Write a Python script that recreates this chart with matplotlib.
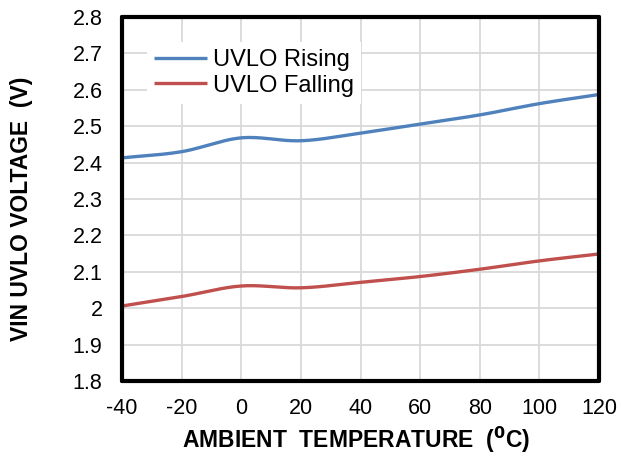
import numpy as np
import matplotlib
matplotlib.use("Agg")
import matplotlib.pyplot as plt

plt.rcParams['font.family'] = ['Liberation Sans', 'DejaVu Sans']

temps = [-40, -20, 0, 20, 40, 60, 80, 100, 120]
uvlo_rising = [2.413, 2.430, 2.468, 2.460, 2.481, 2.506, 2.531, 2.562, 2.587]
uvlo_falling = [2.006, 2.032, 2.061, 2.056, 2.071, 2.087, 2.107, 2.130, 2.149]
xticks = [-40, -20, 0, 20, 40, 60, 80, 100, 120]
xticklabels = ['-40', '-20', '0', '20', '40', '60', '80', '100', '120']
yticks = [1.8, 1.9, 2.0, 2.1, 2.2, 2.3, 2.4, 2.5, 2.6, 2.7, 2.8]
yticklabels = ['1.8', '1.9', '2', '2.1', '2.2', '2.3', '2.4', '2.5', '2.6', '2.7', '2.8']


def smooth(x, y, n=30):
    # Catmull-Rom style smoothing (like spreadsheet smoothed lines)
    x = np.asarray(x, float); y = np.asarray(y, float)
    px = np.concatenate([[2 * x[0] - x[1]], x, [2 * x[-1] - x[-2]]])
    py = np.concatenate([[2 * y[0] - y[1]], y, [2 * y[-1] - y[-2]]])
    xs, ys = [], []
    for i in range(1, len(px) - 2):
        t = np.linspace(0, 1, n, endpoint=False)
        p0, p1, p2, p3 = py[i - 1], py[i], py[i + 1], py[i + 2]
        q0, q1, q2, q3 = px[i - 1], px[i], px[i + 1], px[i + 2]
        ys.append(0.5 * ((2 * p1) + (-p0 + p2) * t + (2 * p0 - 5 * p1 + 4 * p2 - p3) * t**2 + (-p0 + 3 * p1 - 3 * p2 + p3) * t**3))
        xs.append(0.5 * ((2 * q1) + (-q0 + q2) * t + (2 * q0 - 5 * q1 + 4 * q2 - q3) * t**2 + (-q0 + 3 * q1 - 3 * q2 + q3) * t**3))
    xs.append([x[-1]]); ys.append([y[-1]])
    return np.concatenate(xs), np.concatenate(ys)


W, H = 621, 457
fig = plt.figure(figsize=(W / 100, H / 100), dpi=100)
L, R, T, B = 122, 599, 17, 381
ax = fig.add_axes([L / W, 1 - B / H, (R - L) / W, (B - T) / H])

sx, sy = smooth(temps, uvlo_rising)
ax.plot(sx, sy, color='#4F81BD', lw=2.4, label='UVLO Rising', solid_capstyle='butt')
sx, sy = smooth(temps, uvlo_falling)
ax.plot(sx, sy, color='#C0504D', lw=2.4, label='UVLO Falling', solid_capstyle='butt')

ax.set_xlim(-40, 120)
ax.set_ylim(1.8, 2.8)
ax.set_xticks(xticks)
ax.set_xticklabels(xticklabels)
ax.set_yticks(yticks)
ax.set_yticklabels(yticklabels)
ax.grid(True, color='#D9D9D9', lw=1.3)
ax.set_axisbelow(True)
ax.tick_params(axis='y', length=0, labelsize=15.5, pad=14)
ax.tick_params(axis='x', length=0, labelsize=15.5, pad=12)
for s in ax.spines.values():
    s.set_linewidth(3)
    s.set_color('black')
    s.set_capstyle('round')

fig.text(356 / W, 1 - 440 / H, r'AMBIENT  TEMPERATURE  ($\mathbf{^0}$C)', fontsize=16.5,
         fontweight='bold', ha='center', va='center')
fig.text(22 / W, 1 - 209 / H, 'VIN UVLO VOLTAGE  (V)', fontsize=16.5, fontweight='bold',
         ha='center', va='center', rotation=90)

leg = ax.legend(loc='upper left', bbox_to_anchor=((147 - L) / (R - L), (B - 42) / (B - T)),
                fontsize=17, frameon=True, handlelength=2.25, handletextpad=0.25,
                labelspacing=0.15, borderaxespad=0.0, borderpad=0.3)
leg.get_frame().set_edgecolor('none')
leg.get_frame().set_facecolor('white')
leg.get_frame().set_alpha(1)
leg.get_frame().set_boxstyle('square', pad=0)

fig.savefig('out.png', dpi=100)
